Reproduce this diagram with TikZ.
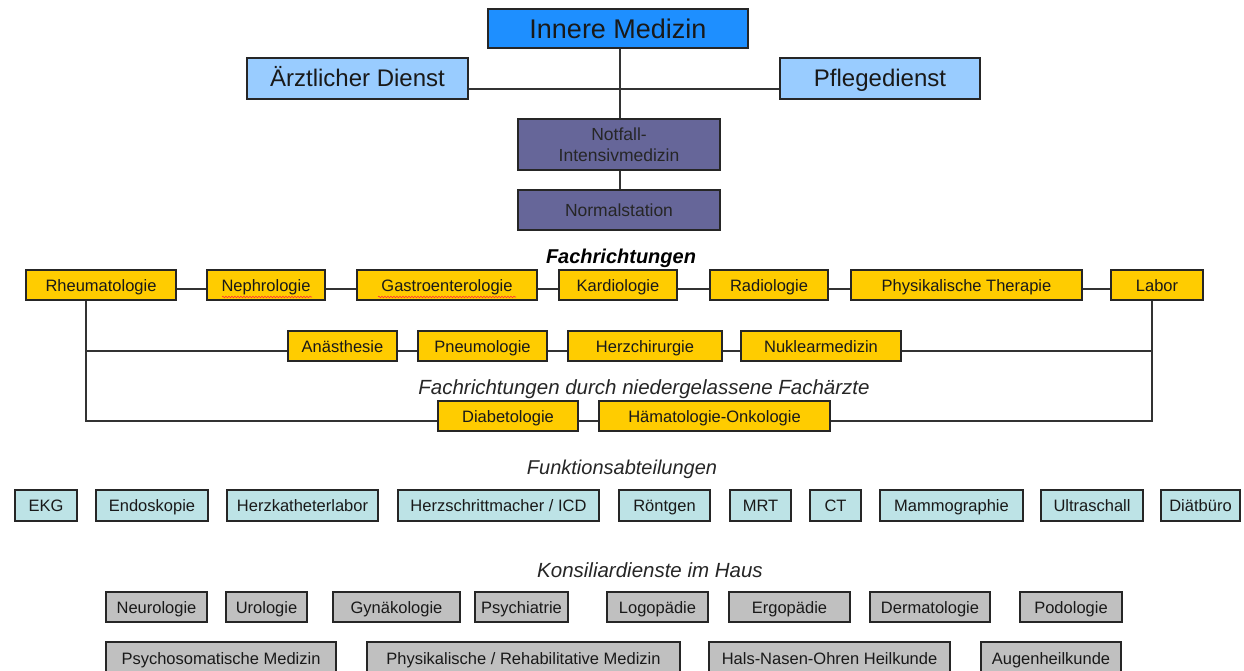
\documentclass[tikz,border=0pt]{standalone}
\usepackage{fontspec}
\setmainfont{Liberation Sans}
\usetikzlibrary{decorations.pathmorphing}
\definecolor{imblue}{HTML}{1E8FFF}
\definecolor{lblue}{HTML}{99CCFF}
\definecolor{slate}{HTML}{666699}
\definecolor{gold}{HTML}{FFCC00}
\definecolor{lcyan}{HTML}{BDE3E6}
\definecolor{lgrey}{HTML}{C0C0C0}
\definecolor{lnk}{HTML}{333333}
\begin{document}
\begin{tikzpicture}[x=1pt,y=-1pt,
  base/.style={draw=black!85, line width=1.1pt, inner sep=0pt, text=black!90},
  topbox/.style={base, fill=lblue, minimum height=41pt, text height=18pt, text depth=1pt, font=\fontsize{24}{28}\selectfont},
  headbox/.style={base, fill=imblue, minimum height=39pt, text height=20pt, text depth=0.5pt, font=\fontsize{27}{30}\selectfont},
  slatebox/.style={base, fill=slate, text=black!85, align=center, font=\fontsize{17.5}{21}\selectfont},
  rowtext/.style={text height=12.5pt, text depth=0.5pt, font=\fontsize{16.5}{19}\selectfont},
  ybox/.style={base, rowtext, fill=gold, minimum height=30pt},
  cbox/.style={base, rowtext, fill=lcyan, minimum height=31pt},
  gbox/.style={base, rowtext, fill=lgrey, minimum height=30pt},
  hdr/.style={inner sep=0pt, text=black!85, font=\fontsize{20.5}{24}\selectfont\itshape},
  conn/.style={draw=lnk, line width=1.3pt},
  squig/.style={draw=red!80, line width=0.6pt, decorate, decoration={snake, amplitude=0.8pt, segment length=3pt}}
]
\useasboundingbox (0,0) rectangle (1244,671);
\fill[white] (0,0) rectangle (1244,671);
\begin{scope}
\clip (0,0) rectangle (1244,671);

% top
\node[headbox, minimum width=260pt] (im) at (618,28.5) {Innere Medizin};
\node[topbox, minimum width=221pt] (aerzt) at (357.5,78.5) {Ärztlicher Dienst};
\node[topbox, minimum width=200pt] (pflege) at (880,78.5) {Pflegedienst};
\node[slatebox, minimum width=202pt, minimum height=51pt] (notfall) at (619,144.5) {Notfall-\\Intensivmedizin};
\node[slatebox, minimum width=202pt, minimum height=40pt, text height=13.5pt, text depth=0.5pt] (normal) at (619,210) {Normalstation};
\coordinate (hl) at (620,89);
\coordinate (vx) at (620,0);

% row 1
\node[hdr, font=\fontsize{20}{24}\selectfont\bfseries\itshape, text=black] (fr) at (621,258) {Fachrichtungen};
\node[ybox, minimum width=150pt] (rheuma) at (101,285) {Rheumatologie};
\node[ybox, minimum width=118pt] (nephro) at (266,285) {Nephrologie};
\node[ybox, minimum width=180pt] (gastro) at (447,285) {Gastroenterologie};
\node[ybox, minimum width=118pt] (kardio) at (618,285) {Kardiologie};
\node[ybox, minimum width=118pt] (radio) at (769,285) {Radiologie};
\node[ybox, minimum width=231pt] (physt) at (966.5,285) {Physikalische Therapie};
\node[ybox, minimum width=92pt] (labor) at (1157,285) {Labor};

% row 2
\node[ybox, minimum width=109pt] (anaest) at (342.5,346) {Anästhesie};
\node[ybox, minimum width=129pt] (pneumo) at (482.5,346) {Pneumologie};
\node[ybox, minimum width=154pt] (herzch) at (645,346) {Herzchirurgie};
\node[ybox, minimum width=160pt] (nuklear) at (821,346) {Nuklearmedizin};

% row 3
\node[hdr] (frn) at (644,389) {Fachrichtungen durch niedergelassene Fachärzte};
\node[ybox, minimum width=140pt] (diab) at (508,416) {Diabetologie};
\node[ybox, minimum width=231pt] (haema) at (714.5,416) {Hämatologie-Onkologie};

\coordinate (r1) at (0,289);
\coordinate (r2) at (0,351);
\coordinate (r3) at (0,421);
\coordinate (lx) at (86,0);
\coordinate (rx) at (1152,0);

% Funktionsabteilungen
\node[hdr, font=\fontsize{20}{24}\selectfont\itshape] (fa) at (622,469) {Funktionsabteilungen};
\node[cbox, minimum width=62pt] (ekg) at (46,505.5) {EKG};
\node[cbox, minimum width=112pt] (endo) at (152,505.5) {Endoskopie};
\node[cbox, minimum width=151pt] (hkl) at (302.5,505.5) {Herzkatheterlabor};
\node[cbox, minimum width=201pt] (hsm) at (498.5,505.5) {Herzschrittmacher / ICD};
\node[cbox, minimum width=91pt] (roe) at (664.5,505.5) {Röntgen};
\node[cbox, minimum width=61pt] (mrt) at (760.5,505.5) {MRT};
\node[cbox, minimum width=51pt] (ct) at (835.5,505.5) {CT};
\node[cbox, minimum width=143pt] (mammo) at (951.5,505.5) {Mammographie};
\node[cbox, minimum width=102pt] (ultra) at (1092,505.5) {Ultraschall};
\node[cbox, minimum width=79pt] (diaet) at (1200.5,505.5) {Diätbüro};

% Konsiliardienste
\node[hdr, font=\fontsize{20.5}{24}\selectfont\itshape] (kd) at (650,570) {Konsiliardienste im Haus};
\node[gbox, minimum width=101pt] (neuro) at (156.5,607) {Neurologie};
\node[gbox, minimum width=81pt] (uro) at (266.5,607) {Urologie};
\node[gbox, minimum width=127pt] (gyn) at (396.5,607) {Gynäkologie};
\node[gbox, minimum width=93pt] (psych) at (521.5,607) {Psychiatrie};
\node[gbox, minimum width=101pt] (logo) at (657.5,607) {Logopädie};
\node[gbox, minimum width=121pt] (ergo) at (789.5,607) {Ergopädie};
\node[gbox, minimum width=120pt] (derma) at (930,607) {Dermatologie};
\node[gbox, minimum width=102pt] (podo) at (1071,607) {Podologie};

\node[gbox, minimum width=230pt, minimum height=34pt, text depth=1.5pt] (psom) at (221,659) {Psychosomatische Medizin};
\node[gbox, minimum width=313pt, minimum height=34pt, text depth=1.5pt] (reha) at (523.5,659) {Physikalische / Rehabilitative Medizin};
\node[gbox, minimum width=241pt, minimum height=34pt, text depth=1.5pt] (hno) at (829.5,659) {Hals-Nasen-Ohren Heilkunde};
\node[gbox, minimum width=140pt, minimum height=34pt, text depth=1.5pt] (auge) at (1051,659) {Augenheilkunde};

% connectors top
\draw[conn] (im.south -| vx) -- (notfall.north -| vx);
\draw[conn] (aerzt.east |- hl) -- (pflege.west |- hl);
\draw[conn] (notfall.south -| vx) -- (normal.north -| vx);

% row 1 connectors
\draw[conn] (rheuma.east |- r1) -- (nephro.west |- r1);
\draw[conn] (nephro.east |- r1) -- (gastro.west |- r1);
\draw[conn] (gastro.east |- r1) -- (kardio.west |- r1);
\draw[conn] (kardio.east |- r1) -- (radio.west |- r1);
\draw[conn] (radio.east |- r1) -- (physt.west |- r1);
\draw[conn] (physt.east |- r1) -- (labor.west |- r1);

% frame verticals
\draw[conn] (rheuma.south -| lx) -- (lx |- r3) -- (diab.west |- r3);
\draw[conn] (lx |- r2) -- (anaest.west |- r2);
\draw[conn] (labor.south -| rx) -- (rx |- r3) -- (haema.east |- r3);
\draw[conn] (nuklear.east |- r2) -- (rx |- r2);

% row 2 connectors
\draw[conn] (anaest.east |- r2) -- (pneumo.west |- r2);
\draw[conn] (pneumo.east |- r2) -- (herzch.west |- r2);
\draw[conn] (herzch.east |- r2) -- (nuklear.west |- r2);

% row 3 connector
\draw[conn] (diab.east |- r3) -- (haema.west |- r3);

% spellcheck squiggles
\draw[squig] (222,297) -- (312,297);
\draw[squig] (378,297) -- (516,297);
\end{scope}
\end{tikzpicture}
\end{document}
